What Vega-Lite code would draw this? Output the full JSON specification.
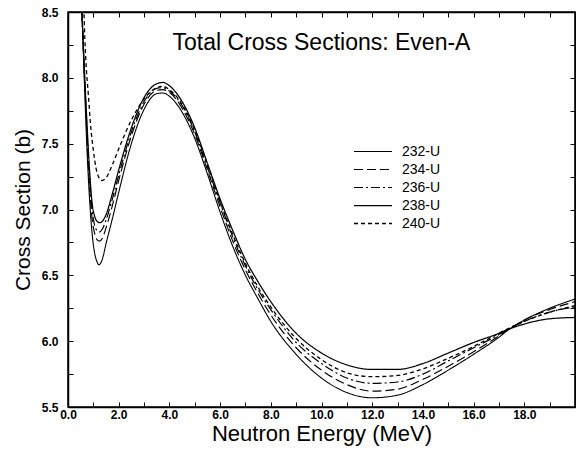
{
  "$schema": "https://vega.github.io/schema/vega-lite/v6.json",
  "width": 507,
  "height": 395,
  "autosize": {"type": "none"},
  "padding": {"left": 68, "top": 12, "right": 1, "bottom": 42},
  "background": "white",
  "title": {"text": "Total Cross Sections: Even-A", "fontSize": 23, "font": "Liberation Sans", "fontWeight": "normal", "offset": -42, "dy": 34, "anchor": "middle", "color": "black"},
  "config": {
    "view": {"stroke": "black", "strokeWidth": 1.5},
    "axis": {"domainColor": "black", "domainWidth": 1.5, "tickColor": "black", "tickWidth": 1, "tickSize": -5, "grid": false, "labelFont": "Liberation Sans", "labelFontWeight": "bold", "labelFontSize": 12, "labelColor": "black", "titleFont": "Liberation Sans", "titleFontWeight": "normal", "titleColor": "black", "labelFlush": false, "labelOverlap": false},
    "legend": {"labelFont": "Liberation Sans", "labelFontSize": 14, "labelColor": "black"}
  },
  "data": {"values": [
    {"i":"232-U","e":0.5,"s":8.75},{"i":"232-U","e":0.55,"s":8.5},{"i":"232-U","e":0.65,"s":7.95},{"i":"232-U","e":0.75,"s":7.45},{"i":"232-U","e":0.85,"s":7.08},{"i":"232-U","e":0.95,"s":6.82},{"i":"232-U","e":1.05,"s":6.67},{"i":"232-U","e":1.15,"s":6.6},{"i":"232-U","e":1.22,"s":6.58},{"i":"232-U","e":1.35,"s":6.62},{"i":"232-U","e":1.5,"s":6.74},{"i":"232-U","e":1.75,"s":6.93},{"i":"232-U","e":2.0,"s":7.13},{"i":"232-U","e":2.5,"s":7.5},{"i":"232-U","e":3.0,"s":7.76},{"i":"232-U","e":3.5,"s":7.88},{"i":"232-U","e":3.75,"s":7.885},{"i":"232-U","e":4.0,"s":7.86},{"i":"232-U","e":4.5,"s":7.74},{"i":"232-U","e":5.0,"s":7.54},{"i":"232-U","e":5.5,"s":7.27},{"i":"232-U","e":6.0,"s":6.98},{"i":"232-U","e":6.5,"s":6.72},{"i":"232-U","e":7.0,"s":6.5},{"i":"232-U","e":7.5,"s":6.32},{"i":"232-U","e":8.0,"s":6.15},{"i":"232-U","e":9.0,"s":5.9},{"i":"232-U","e":10.0,"s":5.72},{"i":"232-U","e":11.0,"s":5.61},{"i":"232-U","e":12.0,"s":5.57},{"i":"232-U","e":13.0,"s":5.59},{"i":"232-U","e":14.0,"s":5.67},{"i":"232-U","e":15.0,"s":5.78},{"i":"232-U","e":16.0,"s":5.9},{"i":"232-U","e":17.0,"s":6.03},{"i":"232-U","e":17.3,"s":6.075},{"i":"232-U","e":18.0,"s":6.16},{"i":"232-U","e":19.0,"s":6.25},{"i":"232-U","e":20.0,"s":6.32},
    {"i":"234-U","e":0.5,"s":8.75},{"i":"234-U","e":0.55,"s":8.5},{"i":"234-U","e":0.65,"s":8.0},{"i":"234-U","e":0.75,"s":7.55},{"i":"234-U","e":0.85,"s":7.18},{"i":"234-U","e":0.95,"s":6.93},{"i":"234-U","e":1.05,"s":6.82},{"i":"234-U","e":1.15,"s":6.77},{"i":"234-U","e":1.25,"s":6.76},{"i":"234-U","e":1.35,"s":6.78},{"i":"234-U","e":1.5,"s":6.86},{"i":"234-U","e":1.75,"s":7.03},{"i":"234-U","e":2.0,"s":7.22},{"i":"234-U","e":2.5,"s":7.56},{"i":"234-U","e":3.0,"s":7.8},{"i":"234-U","e":3.5,"s":7.905},{"i":"234-U","e":3.75,"s":7.91},{"i":"234-U","e":4.0,"s":7.89},{"i":"234-U","e":4.5,"s":7.77},{"i":"234-U","e":5.0,"s":7.57},{"i":"234-U","e":5.5,"s":7.3},{"i":"234-U","e":6.0,"s":7.02},{"i":"234-U","e":6.5,"s":6.76},{"i":"234-U","e":7.0,"s":6.54},{"i":"234-U","e":7.5,"s":6.36},{"i":"234-U","e":8.0,"s":6.2},{"i":"234-U","e":9.0,"s":5.95},{"i":"234-U","e":10.0,"s":5.78},{"i":"234-U","e":11.0,"s":5.67},{"i":"234-U","e":12.0,"s":5.62},{"i":"234-U","e":13.0,"s":5.635},{"i":"234-U","e":14.0,"s":5.71},{"i":"234-U","e":15.0,"s":5.81},{"i":"234-U","e":16.0,"s":5.92},{"i":"234-U","e":17.0,"s":6.04},{"i":"234-U","e":17.3,"s":6.08},{"i":"234-U","e":18.0,"s":6.16},{"i":"234-U","e":19.0,"s":6.24},{"i":"234-U","e":20.0,"s":6.3},
    {"i":"236-U","e":0.5,"s":8.75},{"i":"236-U","e":0.55,"s":8.5},{"i":"236-U","e":0.65,"s":8.02},{"i":"236-U","e":0.75,"s":7.6},{"i":"236-U","e":0.85,"s":7.24},{"i":"236-U","e":0.95,"s":7.0},{"i":"236-U","e":1.05,"s":6.88},{"i":"236-U","e":1.15,"s":6.84},{"i":"236-U","e":1.25,"s":6.83},{"i":"236-U","e":1.35,"s":6.85},{"i":"236-U","e":1.5,"s":6.92},{"i":"236-U","e":1.75,"s":7.08},{"i":"236-U","e":2.0,"s":7.26},{"i":"236-U","e":2.5,"s":7.59},{"i":"236-U","e":3.0,"s":7.82},{"i":"236-U","e":3.5,"s":7.92},{"i":"236-U","e":3.75,"s":7.925},{"i":"236-U","e":4.0,"s":7.9},{"i":"236-U","e":4.5,"s":7.79},{"i":"236-U","e":5.0,"s":7.59},{"i":"236-U","e":5.5,"s":7.32},{"i":"236-U","e":6.0,"s":7.05},{"i":"236-U","e":6.5,"s":6.79},{"i":"236-U","e":7.0,"s":6.57},{"i":"236-U","e":7.5,"s":6.39},{"i":"236-U","e":8.0,"s":6.24},{"i":"236-U","e":9.0,"s":5.99},{"i":"236-U","e":10.0,"s":5.83},{"i":"236-U","e":11.0,"s":5.72},{"i":"236-U","e":12.0,"s":5.68},{"i":"236-U","e":13.0,"s":5.69},{"i":"236-U","e":14.0,"s":5.75},{"i":"236-U","e":15.0,"s":5.85},{"i":"236-U","e":16.0,"s":5.95},{"i":"236-U","e":17.0,"s":6.05},{"i":"236-U","e":17.3,"s":6.085},{"i":"236-U","e":18.0,"s":6.15},{"i":"236-U","e":19.0,"s":6.22},{"i":"236-U","e":20.0,"s":6.26},
    {"i":"238-U","e":0.5,"s":8.75},{"i":"238-U","e":0.55,"s":8.5},{"i":"238-U","e":0.65,"s":8.05},{"i":"238-U","e":0.75,"s":7.65},{"i":"238-U","e":0.85,"s":7.3},{"i":"238-U","e":0.95,"s":7.05},{"i":"238-U","e":1.05,"s":6.95},{"i":"238-U","e":1.15,"s":6.91},{"i":"238-U","e":1.25,"s":6.9},{"i":"238-U","e":1.35,"s":6.91},{"i":"238-U","e":1.5,"s":6.96},{"i":"238-U","e":1.75,"s":7.12},{"i":"238-U","e":2.0,"s":7.3},{"i":"238-U","e":2.5,"s":7.62},{"i":"238-U","e":3.0,"s":7.85},{"i":"238-U","e":3.5,"s":7.955},{"i":"238-U","e":3.75,"s":7.965},{"i":"238-U","e":4.0,"s":7.94},{"i":"238-U","e":4.5,"s":7.82},{"i":"238-U","e":5.0,"s":7.62},{"i":"238-U","e":5.5,"s":7.35},{"i":"238-U","e":6.0,"s":7.08},{"i":"238-U","e":6.5,"s":6.84},{"i":"238-U","e":7.0,"s":6.62},{"i":"238-U","e":7.5,"s":6.45},{"i":"238-U","e":8.0,"s":6.3},{"i":"238-U","e":9.0,"s":6.06},{"i":"238-U","e":10.0,"s":5.91},{"i":"238-U","e":11.0,"s":5.82},{"i":"238-U","e":12.0,"s":5.785},{"i":"238-U","e":13.0,"s":5.785},{"i":"238-U","e":14.0,"s":5.83},{"i":"238-U","e":15.0,"s":5.91},{"i":"238-U","e":16.0,"s":5.99},{"i":"238-U","e":17.0,"s":6.06},{"i":"238-U","e":17.3,"s":6.085},{"i":"238-U","e":18.0,"s":6.13},{"i":"238-U","e":19.0,"s":6.17},{"i":"238-U","e":20.0,"s":6.18},
    {"i":"240-U","e":0.6,"s":8.75},{"i":"240-U","e":0.63,"s":8.5},{"i":"240-U","e":0.7,"s":8.15},{"i":"240-U","e":0.8,"s":7.88},{"i":"240-U","e":0.9,"s":7.62},{"i":"240-U","e":1.0,"s":7.45},{"i":"240-U","e":1.1,"s":7.32},{"i":"240-U","e":1.2,"s":7.25},{"i":"240-U","e":1.33,"s":7.22},{"i":"240-U","e":1.5,"s":7.24},{"i":"240-U","e":1.75,"s":7.34},{"i":"240-U","e":2.0,"s":7.46},{"i":"240-U","e":2.5,"s":7.68},{"i":"240-U","e":3.0,"s":7.84},{"i":"240-U","e":3.5,"s":7.925},{"i":"240-U","e":3.75,"s":7.935},{"i":"240-U","e":4.0,"s":7.91},{"i":"240-U","e":4.5,"s":7.8},{"i":"240-U","e":5.0,"s":7.6},{"i":"240-U","e":5.5,"s":7.34},{"i":"240-U","e":6.0,"s":7.06},{"i":"240-U","e":6.5,"s":6.81},{"i":"240-U","e":7.0,"s":6.59},{"i":"240-U","e":7.5,"s":6.41},{"i":"240-U","e":8.0,"s":6.26},{"i":"240-U","e":9.0,"s":6.02},{"i":"240-U","e":10.0,"s":5.86},{"i":"240-U","e":11.0,"s":5.76},{"i":"240-U","e":12.0,"s":5.73},{"i":"240-U","e":13.0,"s":5.74},{"i":"240-U","e":14.0,"s":5.79},{"i":"240-U","e":15.0,"s":5.87},{"i":"240-U","e":16.0,"s":5.96},{"i":"240-U","e":17.0,"s":6.06},{"i":"240-U","e":17.3,"s":6.09},{"i":"240-U","e":18.0,"s":6.15},{"i":"240-U","e":19.0,"s":6.22},{"i":"240-U","e":20.0,"s":6.27}
  ]},
  "layer": [
    {
      "mark": {"type": "line", "clip": true, "interpolate": "monotone", "color": "black"},
      "encoding": {
        "x": {"field": "e", "type": "quantitative", "scale": {"domain": [0, 20], "nice": false, "zero": false},
          "axis": {"orient": "bottom", "values": [0,1,2,3,4,5,6,7,8,9,10,11,12,13,14,15,16,17,18,19,20], "labelExpr": "datum.value % 2 == 0 && datum.value <= 18 ? format(datum.value, '.1f') : ''", "labelPadding": 7, "title": "Neutron Energy (MeV)", "titleFontSize": 22, "titlePadding": 3}},
        "y": {"field": "s", "type": "quantitative", "scale": {"domain": [5.5, 8.5], "nice": false, "zero": false},
          "axis": {"orient": "left", "values": [5.5,5.75,6,6.25,6.5,6.75,7,7.25,7.5,7.75,8,8.25,8.5], "labelExpr": "(datum.value * 2) % 1 == 0 ? format(datum.value, '.1f') : ''", "labelPadding": 15, "title": "Cross Section (b)", "titleFontSize": 21, "titlePadding": 8}},
        "strokeDash": {"field": "i", "type": "nominal", "scale": {"domain": ["232-U","234-U","236-U","238-U","240-U"], "range": [[1,0],[9,4],[9,3,2,3],[1,0],[4,3]]},
          "legend": {"title": null, "orient": "none", "legendX": 285, "legendY": 129, "symbolType": "M-1,0H3", "symbolSize": 361, "rowPadding": 0, "labelOffset": 28, "symbolStrokeColor": "black", "symbolFillColor": "transparent"}},
        "strokeWidth": {"field": "i", "type": "nominal", "scale": {"domain": ["232-U","234-U","236-U","238-U","240-U"], "range": [1.1, 1.3, 1.3, 2.4, 1.3]},
          "legend": {"title": null, "orient": "none", "legendX": 285, "legendY": 129, "symbolType": "M-1,0H3", "symbolSize": 361, "rowPadding": 0, "labelOffset": 28, "symbolStrokeColor": "black", "symbolFillColor": "transparent"}}
      }
    },
    {
      "mark": {"type": "line", "opacity": 0},
      "encoding": {
        "x": {"field": "e", "type": "quantitative", "axis": {"orient": "top", "values": [0,1,2,3,4,5,6,7,8,9,10,11,12,13,14,15,16,17,18,19,20], "labels": false, "title": null}},
        "y": {"field": "s", "type": "quantitative", "axis": {"orient": "right", "values": [5.5,5.75,6,6.25,6.5,6.75,7,7.25,7.5,7.75,8,8.25,8.5], "labels": false, "title": null}},
        "detail": {"field": "i"}
      }
    }
  ],
  "resolve": {"axis": {"x": "independent", "y": "independent"}}
}
